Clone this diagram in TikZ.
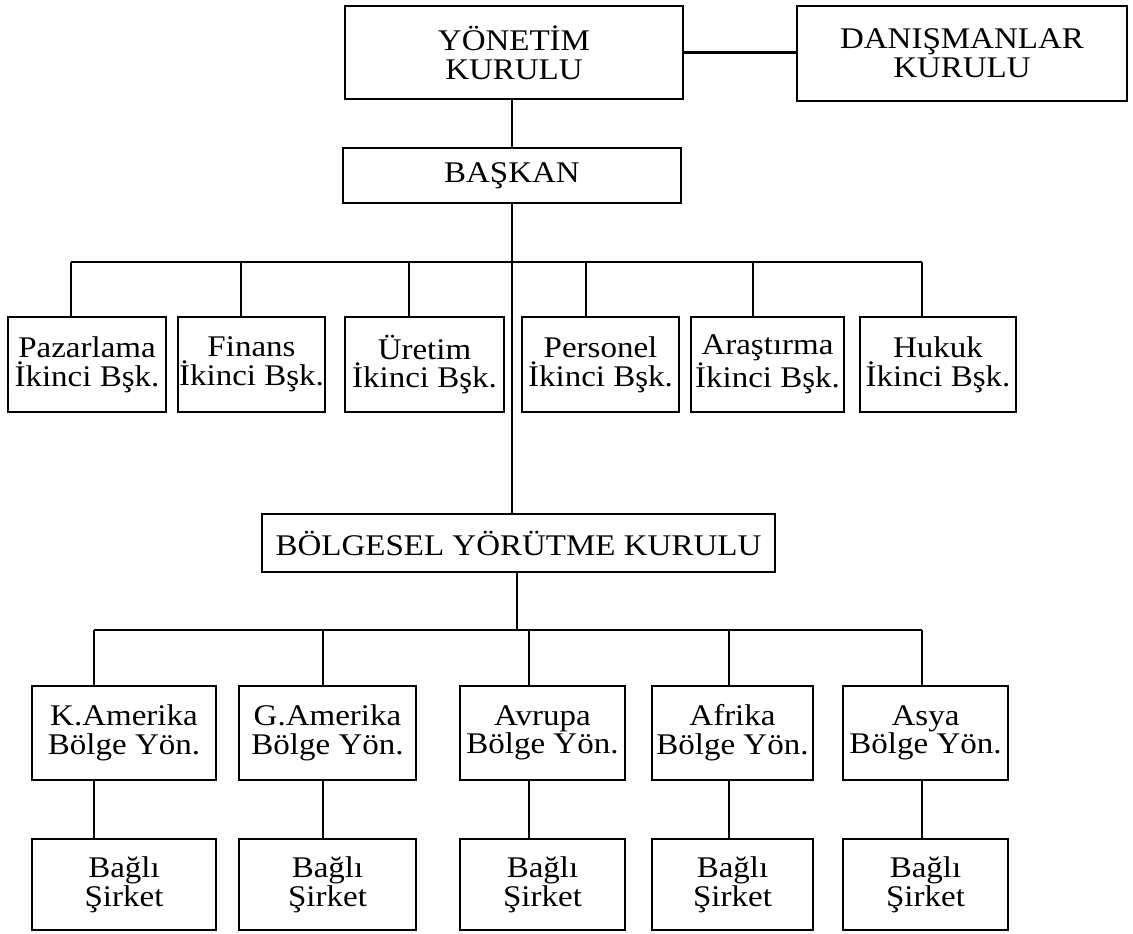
\documentclass[tikz,border=0pt]{standalone}
\usepackage{fontspec}
\setmainfont[FakeStretch=1.1]{Liberation Serif}
\begin{document}
\begin{tikzpicture}[x=0.75pt,y=-0.75pt,
  orgnode/.style={draw, line width=2.2pt, inner sep=0pt, align=center,
    font=\fontsize{22.5}{21.5}\selectfont},
  link/.style={line width=2.2pt}]
\useasboundingbox (0,0) rectangle (1133,934);

% box given by its corners in pixel units: name, x1, y1, x2, y2, text
\newcommand\orgbox[6]{%
  \pgfmathsetmacro\bw{(#4-#2)*0.75}%
  \pgfmathsetmacro\bh{(#5-#3)*0.75}%
  \node[orgnode, minimum width=\bw pt, minimum height=\bh pt] (#1)
    at ({(#2+#4)/2},{(#3+#5)/2}) {#6};}

% board level
\orgbox{yk}{345}{6}{683}{99}{YÖNETİM\\KURULU}
\orgbox{dk}{797}{6}{1127}{101}{DANIŞMANLAR\\KURULU}
\orgbox{bs}{343}{148}{681}{203}{BAŞKAN}

% vice presidents
\orgbox{paz}{8}{317}{166}{412}{Pazarlama\\İkinci Bşk.}
\orgbox{fin}{178}{317}{325}{412}{Finans\\İkinci Bşk.}
\orgbox{ure}{345}{317}{504}{412}{Üretim\\İkinci Bşk.}
\orgbox{per}{522}{317}{679}{412}{Personel\\İkinci Bşk.}
\orgbox{ara}{691}{317}{844}{412}{Araştırma\\İkinci Bşk.}
\orgbox{huk}{860}{317}{1016}{412}{Hukuk\\İkinci Bşk.}

% regional committee
\orgbox{byk}{262}{514}{775}{572}{BÖLGESEL YÖRÜTME KURULU}

% regions
\orgbox{ka}{32}{686}{216}{780}{K.Amerika\\Bölge Yön.}
\orgbox{ga}{239}{686}{416}{780}{G.Amerika\\Bölge Yön.}
\orgbox{av}{460}{686}{625}{780}{Avrupa\\Bölge Yön.}
\orgbox{af}{652}{686}{813}{780}{Afrika\\Bölge Yön.}
\orgbox{as}{843}{686}{1008}{780}{Asya\\Bölge Yön.}

% subsidiaries
\orgbox{ska}{32}{839}{216}{930}{Bağlı\\Şirket}
\orgbox{sga}{239}{839}{416}{930}{Bağlı\\Şirket}
\orgbox{sav}{460}{839}{625}{930}{Bağlı\\Şirket}
\orgbox{saf}{652}{839}{813}{930}{Bağlı\\Şirket}
\orgbox{sas}{843}{839}{1008}{930}{Bağlı\\Şirket}

% board connections
\draw[link] (yk.east) -- (yk.east -| dk.west);
\draw[link] (bs.north) -- (bs.north |- yk.south);

% main spine
\coordinate (spine) at (512,203);
\draw[link] (spine) -- (spine |- byk.north);

% upper bus and drops
\coordinate (tpaz) at (71,262);
\coordinate (tfin) at (241,262);
\coordinate (ture) at (409,262);
\coordinate (tper) at (586,262);
\coordinate (tara) at (753,262);
\coordinate (thuk) at (922,262);
\draw[link] (tpaz) -- (thuk);
\foreach \t/\b in {tpaz/paz,tfin/fin,ture/ure,tper/per,tara/ara,thuk/huk}
  \draw[link] (\t) -- (\t |- \b.north);

% lower bus and drops
\coordinate (down) at (517,572);
\coordinate (tka) at (94,630);
\coordinate (tga) at (323,630);
\coordinate (tav) at (529,630);
\coordinate (taf) at (729,630);
\coordinate (tas) at (922,630);
\draw[link] (down) -- (down |- tka);
\draw[link] (tka) -- (tas);
\foreach \t/\b/\s in {tka/ka/ska,tga/ga/sga,tav/av/sav,taf/af/saf,tas/as/sas}{
  \draw[link] (\t) -- (\t |- \b.north);
  \draw[link] (\t |- \b.south) -- (\t |- \s.north);
}
\end{tikzpicture}
\end{document}
